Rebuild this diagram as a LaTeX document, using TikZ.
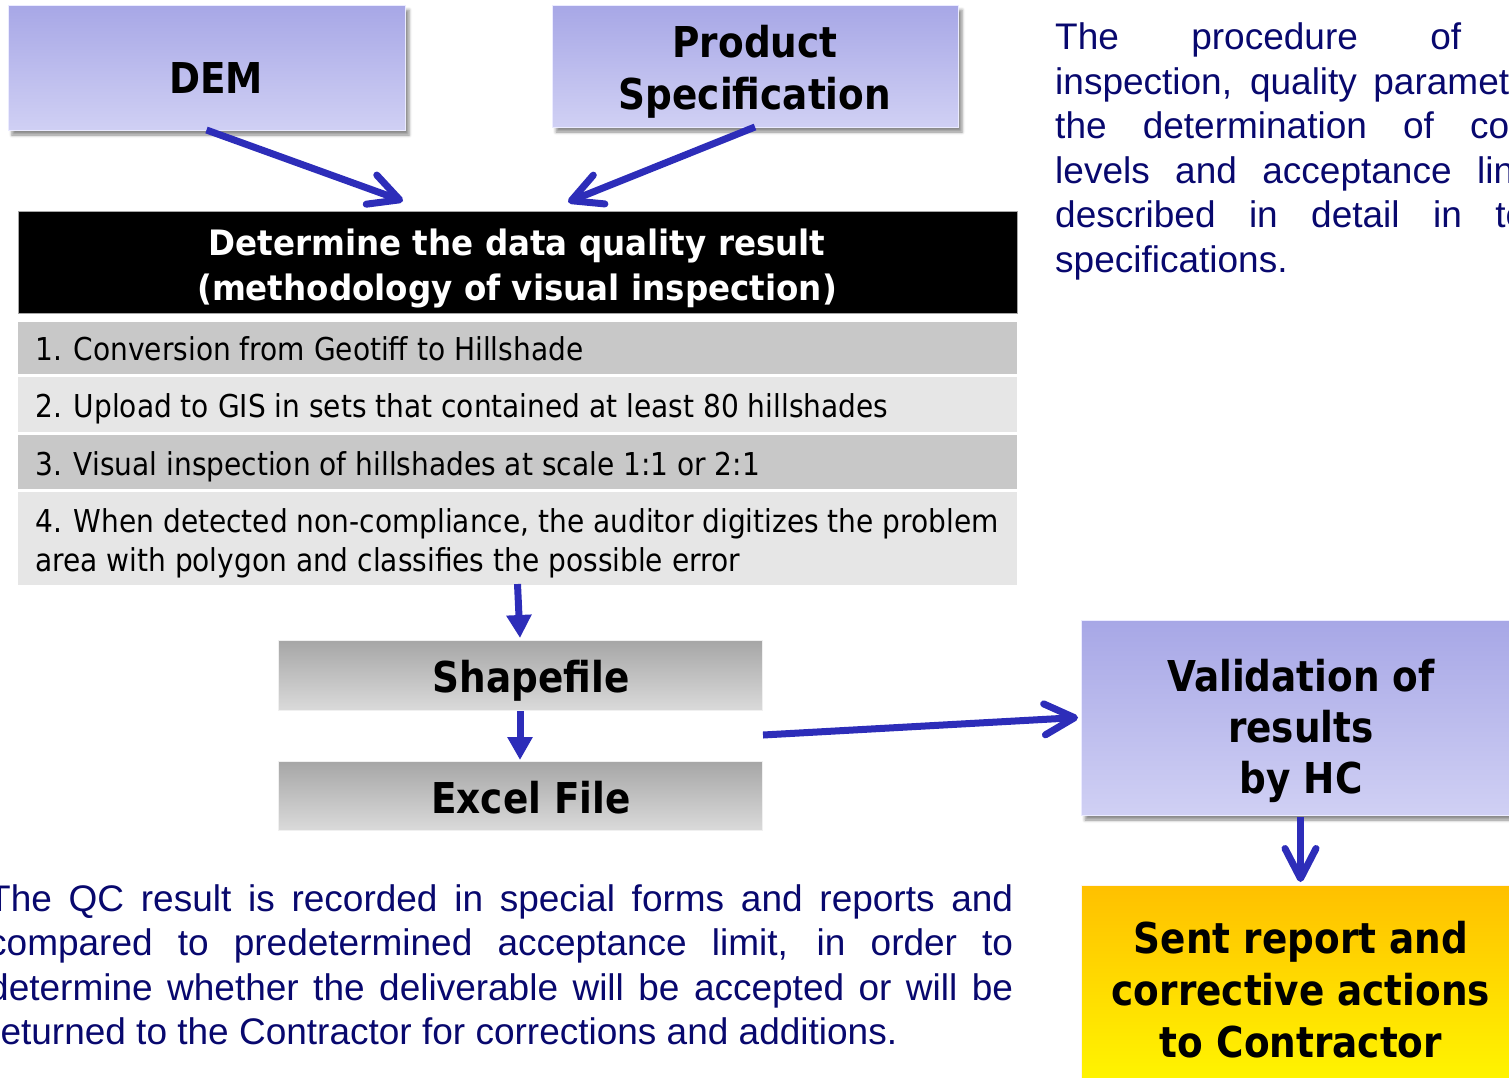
\documentclass[tikz,border=0pt]{standalone}
\usepackage{fontspec}
\setmainfont{Liberation Sans}
\newfontfamily\boxfont{DejaVu Sans}[FakeStretch=0.88]
\newfontfamily\hdrfont{DejaVu Sans}[FakeStretch=0.93]
\newfontfamily\itemfont{DejaVu Sans}[FakeStretch=0.89]
\usetikzlibrary{arrows.meta,shadows.blur}
\definecolor{arrowblue}{RGB}{45,45,185}
\definecolor{navytext}{RGB}{8,8,110}
\definecolor{purtop}{RGB}{167,167,230}
\definecolor{purbot}{RGB}{208,208,244}
\definecolor{graytop}{RGB}{166,166,166}
\definecolor{graybot}{RGB}{218,218,218}
\definecolor{sunorange}{RGB}{255,192,0}
\definecolor{sunyellow}{RGB}{255,247,0}
\definecolor{rowdark}{RGB}{200,200,200}
\definecolor{rowlight}{RGB}{230,230,230}
\begin{document}
\begin{tikzpicture}[x=1pt,y=-1pt,
  basebox/.style={rectangle, inner sep=0pt, outer sep=0pt},
  purplebox/.style={basebox, top color=purtop, bottom color=purbot, draw=white!92!blue, line width=1pt,
     blur shadow={shadow xshift=4pt, shadow yshift=-5pt, shadow blur radius=3pt, shadow opacity=45}},
  graybox/.style={basebox, top color=graytop, bottom color=graybot, draw=white!94!black, line width=1pt},
  sunbox/.style={basebox, top color=sunorange, bottom color=sunyellow, draw=white!92!orange, line width=1pt},
  rowbox/.style={basebox, minimum width=999pt},
  boxlabel/.style={inner sep=0pt, anchor=base, font=\boxfont\bfseries\fontsize{42.5}{50}\selectfont},
  hdrlabel/.style={inner sep=0pt, anchor=base, text=white, font=\hdrfont\bfseries\fontsize{35}{45}\selectfont},
  itemlabel/.style={inner sep=0pt, anchor=base west, font=\itemfont\fontsize{31.5}{38}\selectfont},
  bodytext/.style={inner sep=0pt, anchor=base west, text=navytext, font=\fontsize{37}{44.5}\selectfont},
  openarrow/.style={draw=arrowblue, line width=7pt, -{Straight Barb[length=30pt, width=31pt, round]}},
  solidarrow/.style={draw=arrowblue, fill=arrowblue, line width=7pt, -{Triangle[length=23pt, width=24pt]}}
]
\useasboundingbox (0,0) rectangle (1509,1077);

% top input boxes
\node[purplebox, minimum width=397pt, minimum height=125pt] (dem) at (206.5,67.5) {};
\node[boxlabel] (demtxt) at (216,93) {DEM};
\node[purplebox, minimum width=406pt, minimum height=122pt] (prod) at (755,66) {};
\node[boxlabel] (prodtxta) at (755,57) {Product};
\node[boxlabel] (prodtxtb) at (755,109) {Specification};

% header
\node[basebox, fill=black, draw=gray!70, line width=0.6pt, minimum width=999pt, minimum height=102pt] (hdr) at (517.5,262) {};
\node[hdrlabel] (hdrtxta) at (517,255) {Determine the data quality result};
\node[hdrlabel] (hdrtxtb) at (517,300) {(methodology of visual inspection)};

% rows
\node[rowbox, fill=rowdark, minimum height=52pt] (r1) at (517.5,348) {};
\node[rowbox, fill=rowlight, minimum height=55pt] (r2) at (517.5,404.5) {};
\node[rowbox, fill=rowdark, minimum height=54pt] (r3) at (517.5,462) {};
\node[rowbox, fill=rowlight, minimum height=93pt] (r4) at (517.5,538.5) {};
\node[itemlabel] (r1txt) at (35,360) {1. Conversion from Geotiff to Hillshade};
\node[itemlabel] (r2txt) at (35,417) {2. Upload to GIS in sets that contained at least 80 hillshades};
\node[itemlabel] (r3txt) at (35,475) {3. Visual inspection of hillshades at scale 1:1 or 2:1};
\node[itemlabel] (r4txta) at (35,532) {4. When detected non-compliance, the auditor digitizes the problem};
\node[itemlabel] (r4txtb) at (35,571) {area with polygon and classifies the possible error};

% output files
\node[graybox, minimum width=484pt, minimum height=70pt] (shp) at (520,675) {};
\node[boxlabel] (shptxt) at (531,692) {Shapefile};
\node[graybox, minimum width=484pt, minimum height=69pt] (xls) at (520,795.5) {};
\node[boxlabel] (xlstxt) at (531,813) {Excel File};

% right boxes
\node[purplebox, minimum width=449pt, minimum height=195pt] (val) at (1305.5,717.5) {};
\node[boxlabel] (valtxta) at (1301,691) {Validation of};
\node[boxlabel] (valtxtb) at (1301,742) {results};
\node[boxlabel] (valtxtc) at (1301,793) {by HC};
\node[sunbox, minimum width=449pt, minimum height=205pt] (sent) at (1305.5,987.5) {};
\node[boxlabel] (senttxta) at (1301,953) {Sent report and};
\node[boxlabel] (senttxtb) at (1301,1005) {corrective actions};
\node[boxlabel] (senttxtc) at (1301,1057) {to Contractor};

% connectors
\coordinate (demin) at (403,201);
\coordinate (prodin) at (568,202);
\coordinate (fileout) at (763,735);
\draw[openarrow] (dem.south) -- (demin);
\draw[openarrow] (prod.south) -- (prodin);
\draw[solidarrow] ([yshift=1pt]r4.south) -- ([yshift=2pt]shp.north);
\draw[solidarrow] ([yshift=-1pt]shp.south) -- ([yshift=1pt]xls.north);
\draw[openarrow] (fileout) -- ([xshift=-3pt]val.west);
\draw[openarrow] ([xshift=-5pt,yshift=-2pt]val.south) -- ([xshift=-5pt,yshift=3pt]sent.north);

% right description
\node[bodytext] (desc1) at (1055,49.5) {\makebox[406pt][s]{The procedure of}};
\node[bodytext] (desc2) at (1055,94) {\makebox[454pt][s]{inspection, quality paramet}};
\node[bodytext] (desc3) at (1055,138.5) {\makebox[454pt][s]{the determination of co}};
\node[bodytext] (desc4) at (1055,183) {\makebox[459pt][s]{levels and acceptance lin}};
\node[bodytext] (desc5) at (1055,227.5) {\makebox[471pt][s]{described in detail in te}};
\node[bodytext] (desc6) at (1055,272) {specifications.};

% bottom description
\node[bodytext] (qc1) at (-12,911) {\makebox[1025pt][s]{The QC result is recorded in special forms and reports and}};
\node[bodytext] (qc2) at (-12,955.5) {\makebox[1025pt][s]{compared to predetermined acceptance limit, in order to}};
\node[bodytext] (qc3) at (-12,1000) {\makebox[1025pt][s]{determine whether the deliverable will be accepted or will be}};
\node[bodytext] (qc4) at (-12,1044.5) {returned to the Contractor for corrections and additions.};
\end{tikzpicture}
\end{document}
